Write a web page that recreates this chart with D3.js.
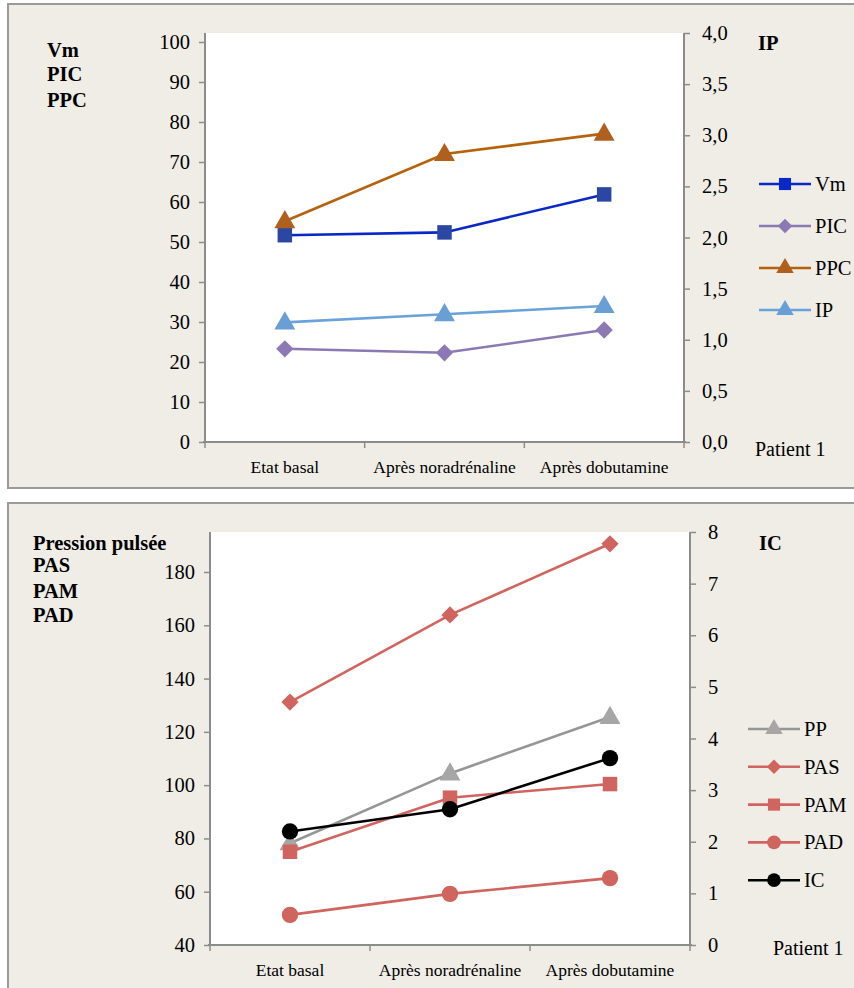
<!DOCTYPE html>
<html><head><meta charset="utf-8">
<script src="https://cdn.jsdelivr.net/npm/d3@7"></script>
<style>
html,body{margin:0;padding:0;background:#fff;}
svg{display:block;font-family:"Liberation Serif","Times New Roman",serif;}
</style></head>
<body>
<svg id="c" width="854" height="988"></svg>
<script>
// ---------- DATA ----------
const categories = ["Etat basal", "Après noradrénaline", "Après dobutamine"];

// Chart 1 (left axis: Vm, PIC, PPC; right axis: IP)
const vm  = [51.7, 52.4, 61.9];
const pic = [23.3, 22.3, 28.0];
const ppc = [55.2, 72.0, 77.1];
const ip  = [1.17, 1.25, 1.33];
const leftTicks1  = [0, 10, 20, 30, 40, 50, 60, 70, 80, 90, 100];
const rightTicks1 = [0, 0.5, 1, 1.5, 2, 2.5, 3, 3.5, 4];

// Chart 2 (left axis: PP, PAS, PAM, PAD; right axis: IC)
const pp  = [78.2, 104.4, 125.6];
const pas = [131.2, 163.9, 190.6];
const pam = [75.0, 95.3, 100.4];
const pad = [51.3, 59.2, 65.1];
const ic  = [2.20, 2.63, 3.62];
const leftTicks2  = [40, 60, 80, 100, 120, 140, 160, 180];
const rightTicks2 = [0, 1, 2, 3, 4, 5, 6, 7, 8];

const svg = d3.select("#c");
const axisColor = "#8c8c8c";
const FONT = "Liberation Serif";
const fmt1 = v => d3.format(".1f")(v).replace(".", ",");

function symbolPath(type, size) {
  const t = {square: d3.symbolSquare, diamond: d3.symbolDiamond2, triangle: d3.symbolTriangle, circle: d3.symbolCircle}[type];
  return d3.symbol().type(t).size(size)();
}

function panel(cfg) {
  const g = svg.append("g");
  g.append("rect").attr("x", cfg.box[0]).attr("y", cfg.box[1]).attr("width", cfg.box[2]).attr("height", cfg.box[3])
    .attr("fill", "#efede6").attr("stroke", "#9a9a9a").attr("stroke-width", 2);
  const pa = cfg.plot;
  g.append("rect").attr("x", pa[0]).attr("y", pa[1]).attr("width", pa[2]-pa[0]).attr("height", pa[3]-pa[1]).attr("fill", "#fff");

  const x = d3.scaleBand().domain(categories).range([pa[0], pa[2]]);
  const yL = d3.scaleLinear().domain(cfg.leftDomain).range(cfg.leftRange);
  const yR = d3.scaleLinear().domain(cfg.rightDomain).range(cfg.rightRange);

  const la = g.append("g").attr("transform", `translate(${pa[0]},0)`)
    .call(d3.axisLeft(yL).tickValues(cfg.leftTicks).tickSize(6).tickSizeOuter(0).tickPadding(9).tickFormat(d => d));
  la.attr("font-family", FONT);
  la.select(".domain").remove();
  g.append("line").attr("x1", pa[0]).attr("x2", pa[0]).attr("y1", pa[1]).attr("y2", pa[3]).attr("stroke", axisColor).attr("stroke-width", 2);
  la.selectAll(".tick line").attr("stroke", axisColor).attr("stroke-width", 1.5);
  la.selectAll(".tick text").attr("font-size", 20.5).attr("fill", "#000");

  const ra = g.append("g").attr("transform", `translate(${pa[2]},0)`)
    .call(d3.axisRight(yR).tickValues(cfg.rightTicks).tickSize(6).tickSizeOuter(0).tickPadding(12).tickFormat(cfg.rightFmt));
  ra.attr("font-family", FONT);
  ra.select(".domain").remove();
  g.append("line").attr("x1", pa[2]).attr("x2", pa[2]).attr("y1", pa[1]).attr("y2", pa[3]).attr("stroke", axisColor).attr("stroke-width", 2);
  ra.selectAll(".tick line").attr("stroke", axisColor).attr("stroke-width", 1.5);
  ra.selectAll(".tick text").attr("font-size", 20.5).attr("fill", "#000");

  g.append("line").attr("x1", pa[0]-2).attr("x2", pa[2]+2).attr("y1", pa[3]).attr("y2", pa[3]).attr("stroke", axisColor).attr("stroke-width", 2);
  const bounds = categories.map(c => x(c)).concat([x(categories[categories.length-1]) + x.bandwidth()]);
  g.selectAll(".xt").data(bounds).enter().append("line")
    .attr("x1", d => d).attr("x2", d => d).attr("y1", pa[3]).attr("y2", pa[3]+6)
    .attr("stroke", axisColor).attr("stroke-width", 1.5);
  g.selectAll(".xl").data(categories).enter().append("text")
    .attr("x", d => x(d) + x.bandwidth()/2).attr("y", pa[3] + 31)
    .attr("text-anchor", "middle").attr("font-size", 17.5).attr("font-family", FONT).text(d => d);

  cfg.series.forEach(s => {
    const y = s.axis === "right" ? yR : yL;
    const line = d3.line().x((d, i) => x(categories[i]) + x.bandwidth()/2).y(d => y(d));
    g.append("path").datum(s.values).attr("d", line).attr("fill", "none")
      .attr("stroke", s.color).attr("stroke-width", 2.6);
    g.selectAll(null).data(s.values).enter().append("path")
      .attr("transform", (d, i) => `translate(${x(categories[i]) + x.bandwidth()/2},${y(d) + (s.shape === "triangle" ? 1 : 0)})`)
      .attr("d", symbolPath(s.shape, s.size)).attr("fill", s.mcolor);
  });

  cfg.series.forEach((s, i) => {
    const ly = cfg.legend.y + i * cfg.legend.dy;
    g.append("line").attr("x1", cfg.legend.x).attr("x2", cfg.legend.x + 52).attr("y1", ly).attr("y2", ly)
      .attr("stroke", s.color).attr("stroke-width", 2.6);
    g.append("path").attr("transform", `translate(${cfg.legend.x + 26},${ly})`)
      .attr("d", symbolPath(s.shape, s.size * 0.7)).attr("fill", s.lcolor || s.mcolor);
    g.append("text").attr("x", cfg.legend.x + 56).attr("y", ly + 7).attr("font-size", 20.5).attr("font-family", FONT).text(s.name);
  });

  cfg.leftTitles.forEach(t => {
    g.append("text").attr("x", t[0]).attr("y", t[1]).attr("font-size", 20.5).attr("font-weight", "bold").attr("font-family", FONT).text(t[2]);
  });
  g.append("text").attr("x", cfg.rightTitle[0]).attr("y", cfg.rightTitle[1]).attr("font-size", 20.5).attr("font-weight", "bold").attr("font-family", FONT).text(cfg.rightTitle[2]);
  g.append("text").attr("x", cfg.patient[0]).attr("y", cfg.patient[1]).attr("font-size", 20).attr("font-family", FONT).text("Patient 1");
}

panel({
  box: [8, 4, 860, 484],
  plot: [205, 33, 684, 442],
  leftDomain: [0, 100], leftRange: [442, 42],
  rightDomain: [0, 4], rightRange: [442, 33],
  leftTicks: leftTicks1, rightTicks: rightTicks1, rightFmt: fmt1,
  series: [
    {name: "Vm",  values: vm,  axis: "left",  color: "#0a28c8", mcolor: "#2b47a3", lcolor: "#0a28c8", shape: "square",   size: 210},
    {name: "PIC", values: pic, axis: "left",  color: "#8c79b3", mcolor: "#8c79b3", shape: "diamond",  size: 190},
    {name: "PPC", values: ppc, axis: "left",  color: "#b5620c", mcolor: "#b0601e", shape: "triangle", size: 190},
    {name: "IP",  values: ip,  axis: "right", color: "#6aa3dc", mcolor: "#6a9fd6", shape: "triangle", size: 190}
  ],
  legend: {x: 759, y: 184, dy: 42},
  leftTitles: [[47, 57, "Vm"], [47, 81, "PIC"], [47, 107, "PPC"]],
  rightTitle: [758, 50, "IP"],
  patient: [755, 456]
});

panel({
  box: [8, 503, 860, 500],
  plot: [210, 532, 690, 945],
  leftDomain: [40, 180], leftRange: [945, 572],
  rightDomain: [0, 8], rightRange: [945, 532],
  leftTicks: leftTicks2, rightTicks: rightTicks2, rightFmt: d => d,
  series: [
    {name: "PP",  values: pp,  axis: "left",  color: "#969696", mcolor: "#a6a6a6", shape: "triangle", size: 190},
    {name: "PAS", values: pas, axis: "left",  color: "#d0645e", mcolor: "#d0645e", shape: "diamond",  size: 190},
    {name: "PAM", values: pam, axis: "left",  color: "#d0645e", mcolor: "#d0645e", shape: "square",   size: 210},
    {name: "PAD", values: pad, axis: "left",  color: "#d0645e", mcolor: "#d0645e", shape: "circle",   size: 210},
    {name: "IC",  values: ic,  axis: "right", color: "#000000", mcolor: "#000000", shape: "circle",   size: 210}
  ],
  legend: {x: 748, y: 729, dy: 37.8},
  leftTitles: [[33, 550, "Pression pulsée"], [33, 572, "PAS"], [33, 598, "PAM"], [33, 622, "PAD"]],
  rightTitle: [759, 550, "IC"],
  patient: [773, 955]
});
</script>
</body></html>
